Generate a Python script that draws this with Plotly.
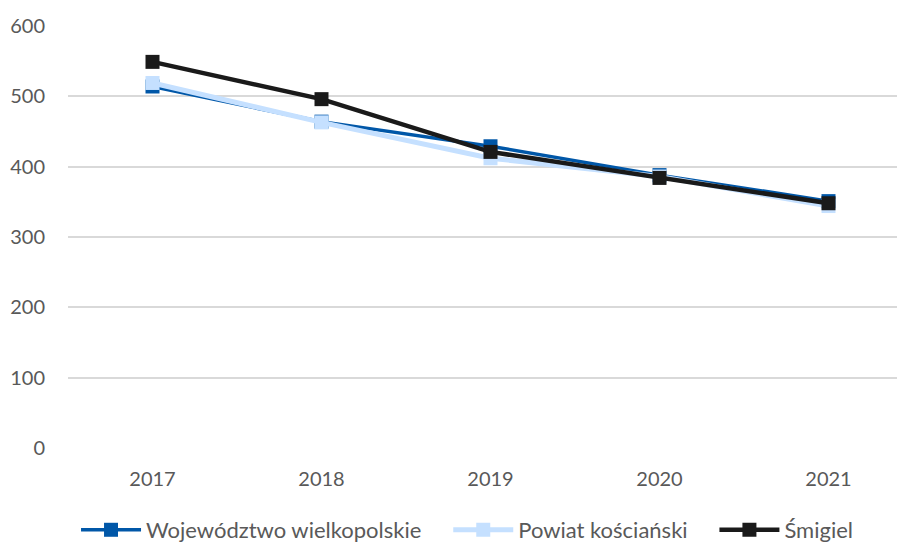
import plotly.graph_objects as go

years = ["2017", "2018", "2019", "2020", "2021"]
wojewodztwo = [514, 464, 429, 388, 351]
powiat = [519, 463, 412, 386, 344]
smigiel = [549, 496, 421, 384, 348]

fig = go.Figure()
fig.add_trace(go.Scatter(x=years, y=wojewodztwo, name="Województwo wielkopolskie",
                         mode="lines+markers", line=dict(color="#0057A8", width=3.5),
                         marker=dict(symbol="square", size=14, color="#0057A8"),
                         legend="legend"))
fig.add_trace(go.Scatter(x=years, y=powiat, name="Powiat kościański",
                         mode="lines+markers", line=dict(color="#C5E0FF", width=5),
                         marker=dict(symbol="square", size=14, color="#C5E0FF"),
                         legend="legend2"))
fig.add_trace(go.Scatter(x=years, y=smigiel, name="Śmigiel",
                         mode="lines+markers", line=dict(color="#1A1A1A", width=4.5),
                         marker=dict(symbol="square", size=14, color="#1A1A1A"),
                         legend="legend3"))

font = "Lato, 'Open Sans', sans-serif"
leg_common = dict(orientation="h", xanchor="left", y=-0.1445, yanchor="top",
                  font=dict(size=22, color="#595959"), itemwidth=60,
                  bgcolor="rgba(0,0,0,0)")
fig.update_layout(
    width=905, height=543,
    margin=dict(l=60, r=0, t=18, b=103, autoexpand=False),
    plot_bgcolor="white", paper_bgcolor="white",
    font=dict(family=font, size=20, color="#595959"),
    showlegend=True,
    legend=dict(x=0.0095, **leg_common),
    legend2=dict(x=0.45, **leg_common),
    legend3=dict(x=0.765, **leg_common),
    xaxis=dict(type="category", range=[-0.5, 4.5], showgrid=False, zeroline=False,
               showline=False, ticks="", automargin=False, ticklabelstandoff=17,
               tickfont=dict(size=20, color="#595959")),
    yaxis=dict(range=[0, 600], dtick=100, showgrid=True, gridcolor="#D9D9D9", gridwidth=1.5,
               zeroline=False, showline=False, ticks="", ticklabelstandoff=22,
               automargin=False, tickfont=dict(size=20, color="#595959")),
)
fig.write_html("out.html")
